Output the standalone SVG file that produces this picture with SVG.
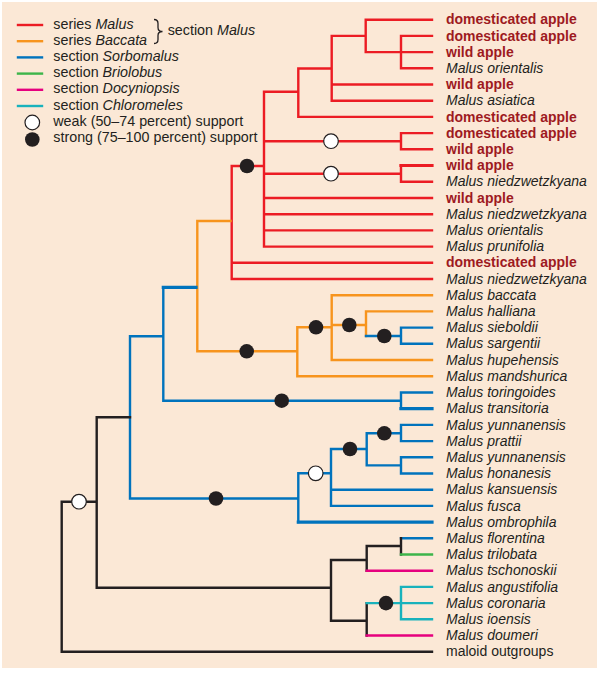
<svg xmlns="http://www.w3.org/2000/svg" width="600" height="674" viewBox="0 0 600 674">
<style>
text{font-family:"Liberation Sans",Arial,Helvetica,sans-serif;font-size:14px;fill:#231F20}
#legend text{font-size:14.3px}
.d{font-weight:bold;fill:#9E1A1F}
.i{font-style:italic}
.b{fill:none;stroke-width:2.4;stroke-linecap:square}
.r{stroke:#EC1C24}.o{stroke:#F7941D}.u{stroke:#0073BD}.k{stroke:#231F20}.g{stroke:#3DB54A}.m{stroke:#E6007E}.c{stroke:#19B2BC}
.w{stroke-width:3.2}
.s{fill:#231F20;stroke:none}
.e{fill:#fff;stroke:#231F20;stroke-width:1.2}
</style>
<rect x="0" y="0" width="600" height="674" fill="#fff"/>
<rect x="2" y="2" width="595" height="666" fill="#FBE8D6"/>
<g id="legend">
<line class="b r" x1="18" y1="25" x2="42" y2="25"/>
<line class="b o" x1="18" y1="41.2" x2="42" y2="41.2"/>
<line class="b u" x1="18" y1="57.4" x2="42" y2="57.4"/>
<line class="b g" x1="18" y1="73.6" x2="42" y2="73.6"/>
<line class="b m" x1="18" y1="89.8" x2="42" y2="89.8"/>
<line class="b c" x1="18" y1="106" x2="42" y2="106"/>
<circle class="e" cx="32.3" cy="122.5" r="7.3"/>
<circle class="s" cx="32.3" cy="139.5" r="7.3"/>
<text x="53.3" y="28.5">series <tspan class="i">Malus</tspan></text>
<text x="53.3" y="44.7">series <tspan class="i">Baccata</tspan></text>
<text x="53.3" y="60.9">section <tspan class="i">Sorbomalus</tspan></text>
<text x="53.3" y="77.1">section <tspan class="i">Briolobus</tspan></text>
<text x="53.3" y="93.3">section <tspan class="i">Docyniopsis</tspan></text>
<text x="53.3" y="109.5">section <tspan class="i">Chloromeles</tspan></text>
<text x="53.3" y="126.4">weak (50–74 percent) support</text>
<text x="53.3" y="142.4">strong (75–100 percent) support</text>
<path d="M154,19.5 q4,0 4,4 v4 q0,4 4.5,4 q-4.5,0 -4.5,4 v4 q0,4 -4,4" fill="none" stroke="#231F20" stroke-width="1.3"/>
<text x="167.7" y="35.2">section <tspan class="i">Malus</tspan></text>
</g>
<g id="connectors">
<path class="b r" d="M401,35.9V68.3M365.7,19.7V52.1M331.7,35.9V100.7M298.3,68.5V116.9M264,91.7V246.6M401,133.1V149.3M401,165.5V181.8M231.7,166V279
M365.7,19.7H432M401,35.9H432M365.7,52.1H432M401,68.3H432M331.7,35.9H365.7M331.7,84.5H432M331.7,100.7H432M298.3,68.5H331.7M298.3,116.9H432M264,91.7H298.3
M264,141.2H401M401,133.1H432M401,149.3H432M264,173.7H401M401,181.8H432M264,198H432M264,214.2H432M264,230.4H432M264,246.6H432M231.7,166H264M231.7,262.8H432M231.7,279H432"/>
<path class="b r w" d="M401,165.5H432"/>
<path class="b o" d="M197.3,221H230.5M197.3,221V351.3M197.3,351.3H297.3M297.3,327.3V376.2M297.3,376.2H432M297.3,327.3H331.7M331.7,295.2V360M331.7,295.2H432M331.7,360H432M331.7,325H366M366,311.4V336M366,311.4H432"/>
<path class="b u" d="M366,336H401M401,327.6V343.8M401,327.6H432M401,343.8H432
M163.3,287.3V400.7M163.3,400.7H401M401,392.5V408.7M401,392.5H432
M130,336.3V498.5M130,336.3H163.3M130,498.5H298.3M298.3,473.3V522.1M298.3,473.3H331M331,449V505.9M331,489.7H432M331,505.9H432M331,449H366.7M366.7,433.3V465.4M366.7,433.3H401M366.7,465.4H401M401,424.9V441.1M401,457.3V473.5M401,424.9H432M401,441.1H432M401,457.3H432M401,473.5H432
M401,538.3H432"/>
<path class="b u w" d="M163.3,287.3H196M401,408.7H432M298.3,522.1H432"/>
<path class="b k" d="M96.7,417.3H130M96.7,417.3V587.7M96.7,587.7H331M61.7,501.7H96.7M61.7,501.7V651.7M61.7,651.7H432M331,560V620.7M331,560H366.7M366.7,546V570.7M366.7,546H401M401,538.3V554.5M331,620.7H366.7M366.7,603.1V635.5"/>
<path class="b g" d="M401,554.5H432"/>
<path class="b m" d="M366.7,570.7H432M366.7,635.5H432"/>
<path class="b c" d="M366.7,603.1H432M401,586.9V619.3M401,586.9H432M401,619.3H432"/>
</g>
<g id="support">
<circle class="s" cx="247" cy="166" r="7.3"/>
<circle class="e" cx="331" cy="141.2" r="7.3"/>
<circle class="e" cx="331" cy="173.7" r="7.3"/>
<circle class="s" cx="246.7" cy="351.3" r="7.3"/>
<circle class="s" cx="316" cy="327.3" r="7.3"/>
<circle class="s" cx="349.3" cy="325" r="7.3"/>
<circle class="s" cx="384.3" cy="336" r="7.3"/>
<circle class="s" cx="281.7" cy="400.7" r="7.3"/>
<circle class="s" cx="216" cy="498.5" r="7.3"/>
<circle class="e" cx="315.7" cy="473.3" r="7.3"/>
<circle class="s" cx="350" cy="449" r="7.3"/>
<circle class="s" cx="384.3" cy="433.3" r="7.3"/>
<circle class="e" cx="79" cy="501.7" r="7.3"/>
<circle class="s" cx="386" cy="603.1" r="7.3"/>
</g>
<g id="tips">
<g id="t1"><text class="d" x="446" y="24.3">domesticated apple</text></g>
<g id="t2"><text class="d" x="446" y="40.5">domesticated apple</text></g>
<g id="t3"><text class="d" x="446" y="56.7">wild apple</text></g>
<g id="t4"><text class="i" x="446" y="72.9">Malus orientalis</text></g>
<g id="t5"><text class="d" x="446" y="89.1">wild apple</text></g>
<g id="t6"><text class="i" x="446" y="105.3">Malus asiatica</text></g>
<g id="t7"><text class="d" x="446" y="121.5">domesticated apple</text></g>
<g id="t8"><text class="d" x="446" y="137.7">domesticated apple</text></g>
<g id="t9"><text class="d" x="446" y="153.9">wild apple</text></g>
<g id="t10"><text class="d" x="446" y="170.1">wild apple</text></g>
<g id="t11"><text class="i" x="446" y="186.4">Malus niedzwetzkyana</text></g>
<g id="t12"><text class="d" x="446" y="202.6">wild apple</text></g>
<g id="t13"><text class="i" x="446" y="218.8">Malus niedzwetzkyana</text></g>
<g id="t14"><text class="i" x="446" y="235">Malus orientalis</text></g>
<g id="t15"><text class="i" x="446" y="251.2">Malus prunifolia</text></g>
<g id="t16"><text class="d" x="446" y="267.4">domesticated apple</text></g>
<g id="t17"><text class="i" x="446" y="283.6">Malus niedzwetzkyana</text></g>
<g id="t18"><text class="i" x="446" y="299.8">Malus baccata</text></g>
<g id="t19"><text class="i" x="446" y="316">Malus halliana</text></g>
<g id="t20"><text class="i" x="446" y="332.2">Malus sieboldii</text></g>
<g id="t21"><text class="i" x="446" y="348.4">Malus sargentii</text></g>
<g id="t22"><text class="i" x="446" y="364.6">Malus hupehensis</text></g>
<g id="t23"><text class="i" x="446" y="380.8">Malus mandshurica</text></g>
<g id="t24"><text class="i" x="446" y="397.1">Malus toringoides</text></g>
<g id="t25"><text class="i" x="446" y="413.3">Malus transitoria</text></g>
<g id="t26"><text class="i" x="446" y="429.5">Malus yunnanensis</text></g>
<g id="t27"><text class="i" x="446" y="445.7">Malus prattii</text></g>
<g id="t28"><text class="i" x="446" y="461.9">Malus yunnanensis</text></g>
<g id="t29"><text class="i" x="446" y="478.1">Malus honanesis</text></g>
<g id="t30"><text class="i" x="446" y="494.3">Malus kansuensis</text></g>
<g id="t31"><text class="i" x="446" y="510.5">Malus fusca</text></g>
<g id="t32"><text class="i" x="446" y="526.7">Malus ombrophila</text></g>
<g id="t33"><text class="i" x="446" y="542.9">Malus florentina</text></g>
<g id="t34"><text class="i" x="446" y="559.1">Malus trilobata</text></g>
<g id="t35"><text class="i" x="446" y="575.3">Malus tschonoskii</text></g>
<g id="t36"><text class="i" x="446" y="591.5">Malus angustifolia</text></g>
<g id="t37"><text class="i" x="446" y="607.7">Malus coronaria</text></g>
<g id="t38"><text class="i" x="446" y="623.9">Malus ioensis</text></g>
<g id="t39"><text class="i" x="446" y="640.1">Malus doumeri</text></g>
<g id="t40"><text x="446" y="656.3">maloid outgroups</text></g>
</g>
</svg>
